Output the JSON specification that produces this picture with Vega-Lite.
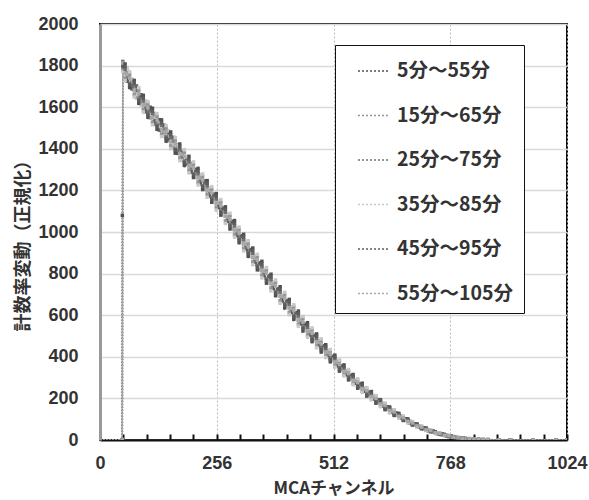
{
"$schema": "https://vega.github.io/schema/vega-lite/v6.json",
"width": 467, "height": 416,
"autosize": {"type": "none"},
"padding": {"left": 100, "top": 24, "right": 22, "bottom": 60},
"background": "white",
"config": {
  "font": "Noto Sans CJK JP",
  "view": {"stroke": "#111", "strokeWidth": 2},
  "axis": {"labelFont": "Liberation Sans", "labelFontWeight": "bold", "labelFontSize": 18, "labelColor": "#333", "titleFont": "Noto Sans CJK JP", "titleFontWeight": "bold", "titleFontSize": 17, "titleColor": "#333"}
},
"data": {"values": [
{"x":0,"5分～55分":0,"15分～65分":0,"25分～75分":0,"35分～85分":0,"45分～95分":0,"55分～105分":0},
{"x":48,"5分～55分":0,"15分～65分":0,"25分～75分":0,"35分～85分":0,"45分～95分":0,"55分～105分":0},
{"x":49,"5分～55分":1080,"15分～65分":0,"25分～75分":0,"35分～85分":0,"45分～95分":0,"55分～105分":0},
{"x":50,"5分～55分":1805,"15分～65分":1778,"25分～75分":1820,"35分～85分":1770,"45分～95分":1795,"55分～105分":1812},
{"x":60,"5分～55分":1735,"15分～65分":1768,"25分～75分":1742,"35分～85分":1790,"45分～95分":1725,"55分～105分":1756},
{"x":70,"5分～55分":1728,"15分～65分":1694,"25分～75分":1705,"35分～85分":1735,"45分～95分":1688,"55分～105分":1719},
{"x":80,"5分～55分":1650,"15分～65分":1690,"25分～75分":1681,"35分～85分":1662,"45分～95分":1702,"55分～105分":1645},
{"x":90,"5分～55分":1655,"15分～65分":1618,"25分～75分":1640,"35分～85分":1610,"45分～95分":1660,"55分～105分":1632},
{"x":100,"5分～55分":1585,"15分～65分":1620,"25分～75分":1598,"35分～85分":1630,"45分～95分":1578,"55分～105分":1611},
{"x":110,"5分～55分":1590,"15分～65分":1551,"25分～75分":1580,"35分～85分":1566,"45分～95分":1600,"55分～105分":1548},
{"x":120,"5分～55分":1530,"15分～65分":1562,"25分～75分":1519,"35分～85分":1548,"45分～95分":1535,"55分～105分":1570},
{"x":130,"5分～55分":1540,"15分～65分":1498,"25分～75分":1522,"35分～85分":1505,"45分～95分":1490,"55分～105分":1527},
{"x":140,"5分～55分":1470,"15分～65分":1506,"25分～75分":1495,"35分～85分":1462,"45分～95分":1514,"55分～105分":1480},
{"x":150,"5分～55分":1475,"15分～65分":1440,"25分～75分":1452,"35分～85分":1486,"45分～95分":1447,"55分～105分":1461},
{"x":160,"5分～55分":1412,"15分～65分":1448,"25分～75分":1436,"35分～85分":1420,"45分～95分":1455,"55分～105分":1405},
{"x":170,"5分～55分":1420,"15分～65分":1385,"25分～75分":1395,"35分～85分":1418,"45分～95分":1378,"55分～105分":1408},
{"x":180,"5分～55分":1352,"15分～65分":1389,"25分～75分":1366,"35分～85分":1345,"45分～95分":1380,"55分～105分":1374},
{"x":190,"5分～55分":1360,"15分～65分":1325,"25分～75分":1348,"35分～85分":1362,"45分～95分":1330,"55分～105分":1337},
{"x":200,"5分～55分":1295,"15分～65分":1330,"25分～75分":1304,"35分～85分":1320,"45分～95分":1289,"55分～105分":1318},
{"x":210,"5分～55分":1301,"15分～65分":1270,"25分～75分":1290,"35分～85分":1262,"45分～95分":1296,"55分～105分":1279},
{"x":220,"5分～55分":1238,"15分～65分":1268,"25分～75分":1250,"35分～85分":1275,"45分～95分":1240,"55分～105分":1259},
{"x":230,"5分～55分":1240,"15分～65分":1210,"25分～75分":1232,"35分～85分":1219,"45分～95分":1246,"55分～105分":1205},
{"x":240,"5分～55分":1180,"15分～65分":1207,"25分～75分":1188,"35分～85分":1212,"45分～95分":1175,"55分～105分":1199},
{"x":250,"5分～55分":1178,"15分～65分":1150,"25分～75分":1170,"35分～85分":1144,"45分～95分":1181,"55分～105分":1160},
{"x":260,"5分～55分":1118,"15分～65分":1146,"25分～75分":1125,"35分～85分":1150,"45分～95分":1121,"55分～105分":1139},
{"x":270,"5分～55分":1115,"15分～65分":1088,"25分～75分":1106,"35分～85分":1084,"45分～95分":1112,"55分～105分":1097},
{"x":280,"5分～55分":1052,"15分～65分":1080,"25分～75分":1061,"35分～85分":1085,"45分～95分":1058,"55分～105分":1072},
{"x":290,"5分～55分":1048,"15分～65分":1020,"25分～75分":1040,"35分～85分":1027,"45分～95分":1051,"55分～105分":1016},
{"x":300,"5分～55分":988,"15分～65分":1015,"25分～75分":995,"35分～85分":1019,"45分～95分":984,"55分～105分":1006},
{"x":310,"5分～55分":982,"15分～65分":955,"25分～75分":974,"35分～85分":950,"45分～95分":979,"55分～105分":963},
{"x":320,"5分～55分":920,"15分～65分":948,"25分～75分":931,"35分～85分":952,"45分～95分":927,"55分～105分":940},
{"x":330,"5分～55分":916,"15分～65分":889,"25分～75分":908,"35分～85分":884,"45分～95分":912,"55分～105分":897},
{"x":340,"5分～55分":855,"15分～65分":880,"25分～75分":864,"35分～85分":886,"45分～95分":858,"55分～105分":873},
{"x":350,"5分～55分":850,"15分～65分":824,"25分～75分":843,"35分～85分":830,"45分～95分":852,"55分～105分":819},
{"x":360,"5分～55分":792,"15分～65分":817,"25分～75分":799,"35分～85分":820,"45分～95分":790,"55分～105分":811},
{"x":370,"5分～55分":786,"15分～65分":762,"25分～75分":780,"35分～85分":758,"45分～95分":789,"55分～105分":770},
{"x":380,"5分～55分":731,"15分～65分":755,"25分～75分":740,"35分～85分":760,"45分～95分":733,"55分～105分":748},
{"x":390,"5分～55分":727,"15分～65分":702,"25分～75分":719,"35分～85分":699,"45分～95分":725,"55分～105分":709},
{"x":400,"5分～55分":672,"15分～65分":697,"25分～75分":680,"35分～85分":700,"45分～95分":675,"55分～105分":689},
{"x":410,"5分～55分":668,"15分～65分":645,"25分～75分":661,"35分～85分":642,"45分～95分":670,"55分～105分":652},
{"x":420,"5分～55分":615,"15分～65分":638,"25分～75分":622,"35分～85分":640,"45分～95分":618,"55分～105分":631},
{"x":430,"5分～55分":611,"15分～65分":588,"25分～75分":604,"35分～85分":586,"45分～95分":612,"55分～105分":595},
{"x":440,"5分～55分":560,"15分～65分":582,"25分～75分":566,"35分～85分":584,"45分～95分":562,"55分～105分":575},
{"x":450,"5分～55分":555,"15分～65分":533,"25分～75分":549,"35分～85分":531,"45分～95分":556,"55分～105分":540},
{"x":460,"5分～55分":506,"15分～65分":528,"25分～75分":512,"35分～85分":529,"45分～95分":509,"55分～105分":521},
{"x":470,"5分～55分":502,"15分～65分":481,"25分～75分":496,"35分～85分":480,"45分～95分":503,"55分～105分":487},
{"x":480,"5分～55分":456,"15分～65分":476,"25分～75分":461,"35分～85分":478,"45分～95分":458,"55分～105分":470},
{"x":490,"5分～55分":451,"15分～65分":431,"25分～75分":446,"35分～85分":430,"45分～95分":452,"55分～105分":437},
{"x":500,"5分～55分":407,"15分～65分":426,"25分～75分":411,"35分～85分":427,"45分～95分":409,"55分～105分":420},
{"x":510,"5分～55分":401,"15分～65分":383,"25分～75分":397,"35分～85分":382,"45分～95分":402,"55分～105分":388},
{"x":520,"5分～55分":361,"15分～65分":378,"25分～75分":364,"35分～85分":379,"45分～95分":362,"55分～105分":373},
{"x":530,"5分～55分":355,"15分～65分":337,"25分～75分":351,"35分～85分":337,"45分～95分":355,"55分～105分":342},
{"x":540,"5分～55分":316,"15分～65分":332,"25分～75分":320,"35分～85分":333,"45分～95分":317,"55分～105分":328},
{"x":550,"5分～55分":310,"15分～65分":294,"25分～75分":307,"35分～85分":294,"45分～95分":310,"55分～105分":298},
{"x":560,"5分～55分":274,"15分～65分":289,"25分～75分":277,"35分～85分":290,"45分～95分":274,"55分～105分":285},
{"x":570,"5分～55分":268,"15分～65分":253,"25分～75分":266,"35分～85分":254,"45分～95分":268,"55分～105分":257},
{"x":580,"5分～55分":235,"15分～65分":248,"25分～75分":237,"35分～85分":249,"45分～95分":235,"55分～105分":245},
{"x":590,"5分～55分":228,"15分～65分":215,"25分～75分":226,"35分～85分":216,"45分～95分":229,"55分～105分":219},
{"x":600,"5分～55分":198,"15分～65分":210,"25分～75分":200,"35分～85分":211,"45分～95分":199,"55分～105分":207},
{"x":610,"5分～55分":191,"15分～65分":180,"25分～75分":190,"35分～85分":181,"45分～95分":192,"55分～105分":183},
{"x":620,"5分～55分":164,"15分～65分":175,"25分～75分":166,"35分～85分":175,"45分～95分":164,"55分～105分":172},
{"x":630,"5分～55分":158,"15分～65分":148,"25分～75分":157,"35分～85分":148,"45分～95分":158,"55分～105分":150},
{"x":640,"5分～55分":134,"15分～65分":143,"25分～75分":135,"35分～85分":143,"45分～95分":133,"55分～105分":141},
{"x":650,"5分～55分":128,"15分～65分":119,"25分～75分":127,"35分～85分":120,"45分～95分":129,"55分～105分":121},
{"x":660,"5分～55分":107,"15分～65分":116,"25分～75分":108,"35分～85分":115,"45分～95分":107,"55分～105分":114},
{"x":670,"5分～55分":102,"15分～65分":94,"25分～75分":101,"35分～85分":95,"45分～95分":102,"55分～105分":96},
{"x":680,"5分～55分":83,"15分～65分":90,"25分～75分":84,"35分～85分":89,"45分～95分":82,"55分～105分":88},
{"x":690,"5分～55分":78,"15分～65分":72,"25分～75分":77,"35分～85分":72,"45分～95分":78,"55分～105分":73},
{"x":700,"5分～55分":62,"15分～65分":68,"25分～75分":63,"35分～85分":67,"45分～95分":62,"55分～105分":67},
{"x":710,"5分～55分":59,"15分～65分":53,"25分～75分":58,"35分～85分":54,"45分～95分":59,"55分～105分":54},
{"x":720,"5分～55分":46,"15分～65分":50,"25分～75分":46,"35分～85分":50,"45分～95分":45,"55分～105分":49},
{"x":730,"5分～55分":42,"15分～65分":38,"25分～75分":42,"35分～85分":38,"45分～95分":42,"55分～105分":39},
{"x":740,"5分～55分":31,"15分～65分":35,"25分～75分":32,"35分～85分":35,"45分～95分":31,"55分～105分":34},
{"x":750,"5分～55分":29,"15分～65分":25,"25分～75分":28,"35分～85分":26,"45分～95分":29,"55分～105分":26},
{"x":760,"5分～55分":20,"15分～65分":23,"25分～75分":21,"35分～85分":23,"45分～95分":20,"55分～105分":23},
{"x":770,"5分～55分":18,"15分～65分":16,"25分～75分":18,"35分～85分":16,"45分～95分":18,"55分～105分":16},
{"x":780,"5分～55分":12,"15分～65分":14,"25分～75分":12,"35分～85分":14,"45分～95分":12,"55分～105分":14},
{"x":790,"5分～55分":11,"15分～65分":9,"25分～75分":11,"35分～85分":9,"45分～95分":11,"55分～105分":10},
{"x":800,"5分～55分":7,"15分～65分":9,"25分～75分":7,"35分～85分":8,"45分～95分":7,"55分～105分":9},
{"x":810,"5分～55分":6,"15分～65分":5,"25分～75分":6,"35分～85分":5,"45分～95分":7,"55分～105分":6},
{"x":820,"5分～55分":4,"15分～65分":5,"25分～75分":3,"35分～85分":4,"45分～95分":4,"55分～105分":5},
{"x":830,"5分～55分":3,"15分～65分":3,"25分～75分":2,"35分～85分":3,"45分～95分":3,"55分～105分":3},
{"x":840,"5分～55分":2,"15分～65分":2,"25分～75分":2,"35分～85分":3,"45分～95分":2,"55分～105分":2},
{"x":850,"5分～55分":1,"15分～65分":2,"25分～75分":2,"35分～85分":1,"45分～95分":2,"55分～105分":1},
{"x":875,"5分～55分":1,"15分～65分":1,"25分～75分":1,"35分～85分":1,"45分～95分":1,"55分～105分":1},
{"x":900,"5分～55分":1,"15分～65分":0,"25分～75分":1,"35分～85分":0,"45分～95分":1,"55分～105分":0},
{"x":950,"5分～55分":0,"15分～65分":0,"25分～75分":0,"35分～85分":0,"45分～95分":0,"55分～105分":0},
{"x":1000,"5分～55分":0,"15分～65分":0,"25分～75分":0,"35分～85分":0,"45分～95分":0,"55分～105分":0},
{"x":1024,"5分～55分":0,"15分～65分":0,"25分～75分":0,"35分～85分":0,"45分～95分":0,"55分～105分":0},
{"x":55,"5分～55分":1808,"15分～65分":1740,"25分～75分":1782,"35分～85分":1728,"45分～95分":1795,"55分～105分":1762},
{"x":65,"5分～55分":1695,"15分～65分":1758,"25分～75分":1715,"35分～85分":1770,"45分～95分":1708,"55分～105分":1740},
{"x":75,"5分～55分":1729,"15分～65分":1661,"25分～75分":1703,"35分～85分":1649,"45分～95分":1716,"55分～105分":1683},
{"x":85,"5分～55分":1619,"15分～65分":1682,"25分～75分":1639,"35分～85分":1694,"45分～95分":1632,"55分～105分":1664},
{"x":95,"5分～55分":1657,"15分～65分":1589,"25分～75分":1631,"35分～85分":1577,"45分～95分":1644,"55分～105分":1611},
{"x":105,"5分～55分":1552,"15分～65分":1615,"25分～75分":1572,"35分～85分":1627,"45分～95分":1565,"55分～105分":1597},
{"x":115,"5分～55分":1595,"15分～65分":1527,"25分～75分":1569,"35分～85分":1515,"45分～95分":1582,"55分～105分":1549},
{"x":125,"5分～55分":1494,"15分～65分":1557,"25分～75分":1514,"35分～85分":1569,"45分～95分":1507,"55分～105分":1539},
{"x":135,"5分～55分":1539,"15分～65分":1471,"25分～75分":1513,"35分～85分":1459,"45分～95分":1526,"55分～105分":1493},
{"x":145,"5分～55分":1437,"15分～65分":1500,"25分～75分":1457,"35分～85分":1512,"45分～95分":1450,"55分～105分":1482},
{"x":155,"5分～55分":1481,"15分～65分":1413,"25分～75分":1455,"35分～85分":1401,"45分～95分":1468,"55分～105分":1435},
{"x":165,"5分～55分":1379,"15分～65分":1442,"25分～75分":1399,"35分～85分":1454,"45分～95分":1392,"55分～105分":1424},
{"x":175,"5分～55分":1423,"15分～65分":1355,"25分～75分":1397,"35分～85分":1343,"45分～95分":1410,"55分～105分":1377},
{"x":185,"5分～55分":1320,"15分～65分":1383,"25分～75分":1340,"35分～85分":1395,"45分～95分":1333,"55分～105分":1365},
{"x":195,"5分～55分":1364,"15分～65分":1296,"25分～75分":1338,"35分～85分":1284,"45分～95分":1351,"55分～105分":1318},
{"x":205,"5分～55分":1262,"15分～65分":1325,"25分～75分":1282,"35分～85分":1337,"45分～95分":1275,"55分～105分":1307},
{"x":215,"5分～55分":1306,"15分～65分":1238,"25分～75分":1280,"35分～85分":1226,"45分～95分":1293,"55分～105分":1260},
{"x":225,"5分～55分":1204,"15分～65分":1267,"25分～75分":1224,"35分～85分":1279,"45分～95分":1217,"55分～105分":1249},
{"x":235,"5分～55分":1247,"15分～65分":1179,"25分～75分":1221,"35分～85分":1167,"45分～95分":1234,"55分～105分":1201},
{"x":245,"5分～55分":1143,"15分～65分":1206,"25分～75分":1163,"35分～85分":1218,"45分～95分":1156,"55分～105分":1188},
{"x":255,"5分～55分":1185,"15分～65分":1117,"25分～75分":1159,"35分～85分":1105,"45分～95分":1172,"55分～105分":1139},
{"x":265,"5分～55分":1081,"15分～65分":1144,"25分～75分":1101,"35分～85分":1156,"45分～95分":1094,"55分～105分":1126},
{"x":275,"5分～55分":1121,"15分～65分":1053,"25分～75分":1095,"35分～85分":1041,"45分～95分":1108,"55分～105分":1075},
{"x":285,"5分～55分":1015,"15分～65分":1078,"25分～75分":1035,"35分～85分":1090,"45分～95分":1028,"55分～105分":1060},
{"x":295,"5分～55分":1055,"15分～65分":987,"25分～75分":1029,"35分～85分":975,"45分～95分":1042,"55分～105分":1009},
{"x":305,"5分～55分":949,"15分～65分":1012,"25分～75分":969,"35分～85分":1024,"45分～95分":962,"55分～105分":994},
{"x":315,"5分～55分":989,"15分～65分":921,"25分～75分":963,"35分～85分":909,"45分～95分":976,"55分～105分":943},
{"x":325,"5分～55分":883,"15分～65分":946,"25分～75分":903,"35分～85分":958,"45分～95分":896,"55分～105分":928},
{"x":335,"5分～55分":923,"15分～65分":855,"25分～75分":897,"35分～85分":843,"45分～95分":910,"55分～105分":877},
{"x":345,"5分～55分":818,"15分～65分":881,"25分～75分":838,"35分～85分":893,"45分～95分":831,"55分～105分":863},
{"x":355,"5分～55分":859,"15分～65分":791,"25分～75分":833,"35分～85分":779,"45分～95分":846,"55分～105分":813},
{"x":365,"5分～55分":754,"15分～65分":817,"25分～75分":774,"35分～85分":829,"45分～95分":767,"55分～105分":799},
{"x":375,"5分～55分":797,"15分～65分":729,"25分～75分":771,"35分～85分":717,"45分～95分":784,"55分～105分":751},
{"x":385,"5分～55分":694,"15分～65分":757,"25分～75分":714,"35分～85分":769,"45分～95分":707,"55分～105分":739},
{"x":395,"5分～55分":737,"15分～65分":669,"25分～75分":711,"35分～85分":657,"45分～95分":724,"55分～105分":691},
{"x":405,"5分～55分":635,"15分～65分":698,"25分～75分":655,"35分～85分":710,"45分～95分":648,"55分～105分":680},
{"x":415,"5分～55分":676,"15分～65分":613,"25分～75分":652,"35分～85分":603,"45分～95分":664,"55分～105分":634},
{"x":425,"5分～55分":580,"15分～65分":640,"25分～75分":599,"35分～85分":650,"45分～95分":592,"55分～105分":622},
{"x":435,"5分～55分":620,"15分～65分":557,"25分～75分":596,"35分～85分":547,"45分～95分":608,"55分～105分":578},
{"x":445,"5分～55分":524,"15分～65分":584,"25分～75分":543,"35分～85分":594,"45分～95分":536,"55分～105分":566},
{"x":455,"5分～55分":564,"15分～65分":503,"25分～75分":541,"35分～85分":494,"45分～95分":552,"55分～105分":523},
{"x":465,"5分～55分":473,"15分～65分":530,"25分～75分":491,"35分～85分":539,"45分～95分":484,"55分～105分":513},
{"x":475,"5分～55分":510,"15分～65分":452,"25分～75分":488,"35分～85分":444,"45分～95分":499,"55分～105分":472},
{"x":485,"5分～55分":423,"15分～65分":478,"25分～75分":441,"35分～85分":486,"45分～95分":434,"55分～105分":462},
{"x":495,"5分～55分":458,"15分～65分":404,"25分～75分":438,"35分～85分":397,"45分～95分":448,"55分～105分":422},
{"x":505,"5分～55分":376,"15分～65分":428,"25分～75分":393,"35分～85分":435,"45分～95分":386,"55分～105分":412},
{"x":515,"5分～55分":408,"15分～65分":357,"25分～75分":390,"35分～85分":350,"45分～95分":399,"55分～105分":375},
{"x":525,"5分～55分":331,"15分～65分":379,"25分～75分":347,"35分～85分":385,"45分～95分":340,"55分～105分":364},
{"x":535,"5分～55分":361,"15分～65分":314,"25分～75分":344,"35分～85分":308,"45分～95分":353,"55分～105分":330},
{"x":545,"5分～55分":289,"15分～65分":333,"25分～75分":304,"35分～85分":339,"45分～95分":297,"55分～105分":320},
{"x":555,"5分～55分":315,"15分～65分":272,"25分～75分":300,"35分～85分":266,"45分～95分":308,"55分～105分":287},
{"x":565,"5分～55分":249,"15分～65分":289,"25分～75分":263,"35分～85分":295,"45分～95分":256,"55分～105分":277},
{"x":575,"5分～55分":273,"15分～65分":234,"25分～75分":259,"35分～85分":229,"45分～95分":266,"55分～105分":247},
{"x":585,"5分～55分":211,"15分～65分":247,"25分～75分":224,"35分～85分":252,"45分～95分":217,"55分～105分":237},
{"x":595,"5分～55分":233,"15分～65分":197,"25分～75分":220,"35分～85分":193,"45分～95分":226,"55分～105分":209},
{"x":605,"5分～55分":177,"15分～65分":210,"25分～75分":189,"35分～85分":214,"45分～95分":183,"55分～105分":200},
{"x":615,"5分～55分":194,"15分～65分":163,"25分～75分":183,"35分～85分":160,"45分～95分":189,"55分～105分":173},
{"x":625,"5分～55分":146,"15分～65分":175,"25分～75分":156,"35分～85分":177,"45分～95分":151,"55分～105分":166},
{"x":635,"5分～55分":159,"15分～65分":133,"25分～75分":150,"35分～85分":130,"45分～95分":155,"55分～105分":142},
{"x":645,"5分～55分":118,"15分～65分":143,"25分～75分":127,"35分～85分":145,"45分～95分":122,"55分～105分":135},
{"x":655,"5分～55分":128,"15分～65分":107,"25分～75分":121,"35分～85分":105,"45分～95分":125,"55分～105分":114},
{"x":665,"5分～55分":94,"15分～65分":113,"25分～75分":101,"35分～85分":115,"45分～95分":97,"55分～105分":107},
{"x":675,"5分～55分":101,"15分～65分":84,"25分～75分":95,"35分～85分":82,"45分～95分":98,"55分～105分":90},
{"x":685,"5分～55分":72,"15分～65分":87,"25分～75分":78,"35分～85分":89,"45分～95分":75,"55分～105分":82},
{"x":695,"5分～55分":77,"15分～65分":64,"25分～75分":72,"35分～85分":62,"45分～95分":75,"55分～105分":68},
{"x":705,"5分～55分":54,"15分～65分":65,"25分～75分":58,"35分～85分":67,"45分～95分":56,"55分～105分":62},
{"x":715,"5分～55分":57,"15分～65分":47,"25分～75分":54,"35分～85分":46,"45分～95分":56,"55分～105分":50},
{"x":725,"5分～55分":40,"15分～65分":48,"25分～75分":42,"35分～85分":49,"45分～95分":41,"55分～105分":45},
{"x":735,"5分～55分":40,"15分～65分":33,"25分～75分":38,"35分～85分":32,"45分～95分":39,"55分～105分":35},
{"x":745,"5分～55分":27,"15分～65分":33,"25分～75分":29,"35分～85分":34,"45分～95分":28,"55分～105分":31},
{"x":755,"5分～55分":27,"15分～65分":22,"25分～75分":25,"35分～85分":21,"45分～95分":26,"55分～105分":23},
{"x":765,"5分～55分":17,"15分～65分":21,"25分～75分":18,"35分～85分":21,"45分～95分":17,"55分～105分":20},
{"x":775,"5分～55分":16,"15分～65分":14,"25分～75分":15,"35分～85分":13,"45分～95分":16,"55分～105分":14},
{"x":785,"5分～55分":10,"15分～65分":12,"25分～75分":11,"35分～85分":12,"45分～95分":10,"55分～105分":12},
{"x":795,"5分～55分":10,"15分～65分":8,"25分～75分":9,"35分～85分":8,"45分～95分":10,"55分～105分":9}
]},
"transform": [{"fold": ["5分～55分","15分～65分","25分～75分","35分～85分","45分～95分","55分～105分"], "as": ["series", "count"]}],
"mark": {"type": "line", "strokeDash": [1.5, 1.5], "strokeWidth": 1.5, "clip": true, "point": {"shape": "square", "size": 12, "filled": true}},
"encoding": {
  "x": {"field": "x", "type": "quantitative",
    "scale": {"domain": [0, 1024], "nice": false, "zero": false},
    "axis": {"title": "MCAチャンネル",
      "values": [0,51.2,102.4,153.6,204.8,256,307.2,358.4,409.6,460.8,512,563.2,614.4,665.6,716.8,768,819.2,870.4,921.6,972.8,1024],
      "labelExpr": "(datum.value % 256 === 0) ? format(datum.value, 'd') : ''",
      "labelOverlap": false, "labelFlush": false,
      "tickSize": -6, "tickColor": "#111", "tickWidth": 2,
      "domainColor": "#111", "domainWidth": 2,
      "grid": true, "gridColor": "#bbb", "gridDash": [2, 2], "gridWidth": 1,
      "gridOpacity": {"condition": {"test": "datum.value % 256 === 0", "value": 1}, "value": 0},
      "labelPadding": 20, "titlePadding": 8}},
  "y": {"field": "count", "type": "quantitative",
    "scale": {"domain": [0, 2000], "nice": false},
    "axis": {"title": "計数率変動（正規化）", "titleFontSize": 18, "values": [0,200,400,600,800,1000,1200,1400,1600,1800,2000], "format": "d",
      "ticks": false, "domainColor": "#999", "domainWidth": 3,
      "grid": true, "gridColor": "#d9d9d9", "gridWidth": 1.5,
      "labelPadding": 22, "titlePadding": 5, "titleY": 217}},
  "color": {"field": "series", "type": "nominal",
    "scale": {"domain": ["5分～55分","15分～65分","25分～75分","35分～85分","45分～95分","55分～105分"],
      "range": ["#505050","#959595","#707070","#c8c8c8","#5c5c5c","#a8a8a8"]},
    "legend": {"orient": "none", "legendX": 235, "legendY": 21, "title": null,
      "symbolType": "stroke", "symbolDash": [2, 2], "symbolStrokeWidth": 1.5, "symbolSize": 900,
      "rowPadding": 18.5, "padding": 10, "symbolOffset": 12, "labelOffset": 8,
      "labelExpr": "datum.label + '\u2002'",
      "labelFont": "Noto Sans CJK JP", "labelFontWeight": "bold", "labelFontSize": 19.5, "labelColor": "#333",
      "strokeColor": "#111", "fillColor": "white"}}
}
}
